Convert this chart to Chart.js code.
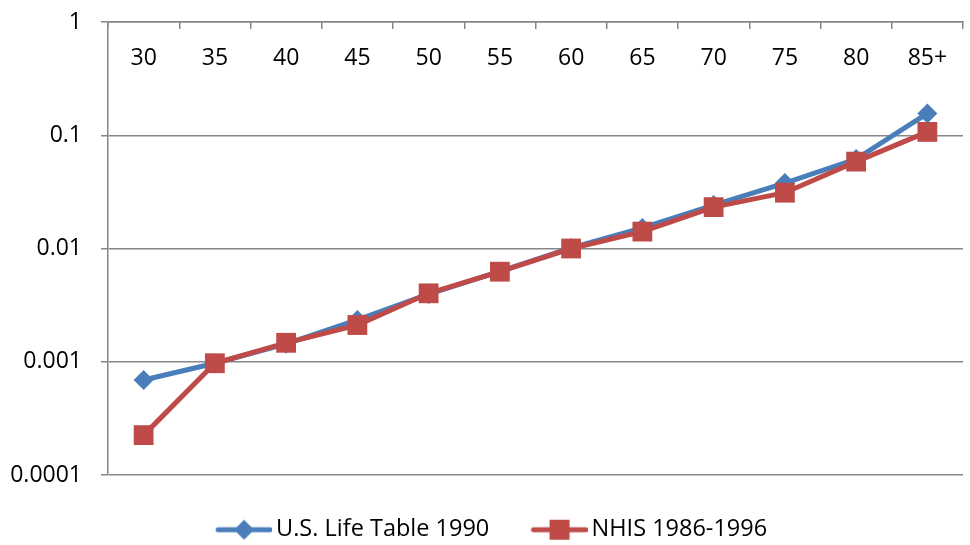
<!DOCTYPE html>
<html>
<head>
<meta charset="utf-8">
<script src="https://cdn.jsdelivr.net/npm/chart.js@4"></script>
<style>
  html, body { margin: 0; padding: 0; background: #fff; }
  canvas { display: block; }
</style>
</head>
<body>
<canvas id="c" width="970" height="545"></canvas>
<script>
const ageGroups = ['30', '35', '40', '45', '50', '55', '60', '65', '70', '75', '80', '85+'];
const lifeTable1990 = [0.00069, 0.00097, 0.00144, 0.00234, 0.00396, 0.00627, 0.0101, 0.0152, 0.0242, 0.0378, 0.0617, 0.156];
const nhis19861996 = [0.000225, 0.00097, 0.00147, 0.00211, 0.00402, 0.00624, 0.0100, 0.0141, 0.0232, 0.0311, 0.0585, 0.107];
const yTickValues = [0.0001, 0.001, 0.01, 0.1, 1];
const yTickLabels = ['0.0001', '0.001', '0.01', '0.1', '1'];
const seriesNames = ['U.S. Life Table 1990', 'NHIS 1986-1996'];

const BLUE = '#4A7EBB';
const RED = '#BE4B48';
const GRID = '#878787';

function makeIcon(color, shape) {
  const cv = document.createElement('canvas');
  cv.width = 63; cv.height = 24;
  const g = cv.getContext('2d');
  g.strokeStyle = color; g.fillStyle = color;
  g.lineWidth = 5; g.lineCap = 'round';
  g.beginPath(); g.moveTo(9, 12); g.lineTo(61, 12); g.stroke();
  const cx = 35, cy = 12;
  g.beginPath();
  if (shape === 'diamond') {
    g.moveTo(cx - 10, cy); g.lineTo(cx, cy - 10); g.lineTo(cx + 10, cy); g.lineTo(cx, cy + 10);
  } else {
    g.rect(cx - 10, cy - 10, 20, 20);
  }
  g.closePath(); g.fill();
  return cv;
}
const legendIcons = [makeIcon(BLUE, 'diamond'), makeIcon(RED, 'square')];

Chart.defaults.font.family = "'Open Sans', sans-serif";
Chart.defaults.font.size = 23;
Chart.defaults.color = '#000';

const legendShift = {
  id: 'legendShift',
  afterLayout(chart) { if (chart.legend) { chart.legend.left += 21; } }
};

new Chart(document.getElementById('c'), {
  type: 'line',
  data: {
    labels: ageGroups,
    datasets: [
      {
        label: seriesNames[0],
        data: lifeTable1990,
        borderColor: BLUE, backgroundColor: BLUE,
        borderWidth: 5, pointStyle: 'rectRot', pointRadius: 10, pointHoverRadius: 10,
        pointBorderWidth: 0, tension: 0, order: 1, clip: false
      },
      {
        label: seriesNames[1],
        data: nhis19861996,
        borderColor: RED, backgroundColor: RED,
        borderWidth: 5, pointStyle: 'rect', pointRadius: 14, pointHoverRadius: 14,
        pointBorderWidth: 0, tension: 0, order: 0, clip: false
      }
    ]
  },
  plugins: [legendShift],
  options: {
    responsive: false,
    animation: false,
    devicePixelRatio: 1,
    layout: { autoPadding: false, padding: { left: 0, right: 7, top: 0, bottom: -6.5 } },
    plugins: {
      tooltip: { enabled: false },
      legend: {
        position: 'bottom',
        labels: {
          usePointStyle: true,
          pointStyleWidth: 47.5,
          padding: 43,
          font: { size: 23.5 },
          color: '#000',
          generateLabels(chart) {
            const items = Chart.defaults.plugins.legend.labels.generateLabels(chart);
            items.forEach(it => { it.pointStyle = legendIcons[it.datasetIndex]; });
            return items.sort((a, b) => a.datasetIndex - b.datasetIndex);
          }
        }
      }
    },
    scales: {
      x: {
        type: 'category',
        position: 'top',
        offset: true,
        afterFit(scale) { scale.height = 22; scale.paddingLeft = 0; scale.paddingRight = 0; },
        grid: { drawOnChartArea: false, offset: true, tickLength: -7, color: GRID, lineWidth: 1.5 },
        border: { display: true, color: GRID, width: 1.5 },
        ticks: { mirror: true, padding: 0, font: { size: 23, lineHeight: '72px' }, color: '#000', maxRotation: 0, autoSkip: false }
      },
      y: {
        type: 'logarithmic',
        min: 0.0001,
        max: 1,
        afterFit(scale) { scale.width = 108; scale.paddingTop = 0; scale.paddingBottom = 0; },
        afterBuildTicks(scale) { scale.ticks = yTickValues.map(v => ({ value: v })); },
        grid: { color: GRID, lineWidth: 1.5, tickLength: 7 },
        border: { display: true, color: GRID, width: 1.5 },
        ticks: {
          padding: 19,
          font: { size: 23 },
          color: '#000',
          callback(value) {
            const i = yTickValues.findIndex(v => Math.abs(v - value) / v < 1e-6);
            return i >= 0 ? yTickLabels[i] : '';
          }
        }
      }
    }
  }
});
</script>
</body>
</html>
